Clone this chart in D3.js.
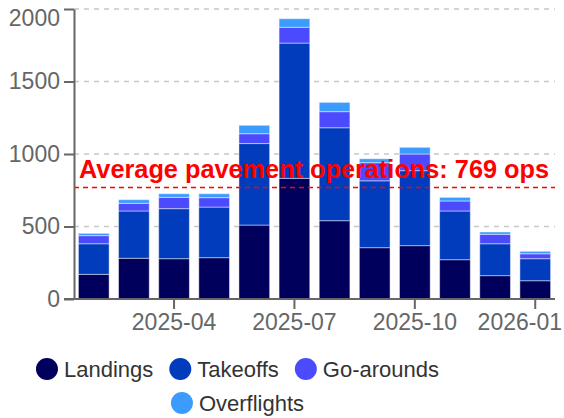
<!DOCTYPE html>
<html>
<head>
<meta charset="utf-8">
<script src="https://cdn.jsdelivr.net/npm/d3@7"></script>
<style>
  html, body { margin: 0; padding: 0; background: #fff; }
  svg { display: block; font-family: "Liberation Sans", Arial, sans-serif; }
</style>
</head>
<body>
<svg id="chart" width="564" height="418"></svg>
<script>
const months = ["2025-02","2025-03","2025-04","2025-05","2025-06","2025-07","2025-08","2025-09","2025-10","2025-11","2025-12","2026-01"];
const landings    = [170, 281, 278, 285, 510, 832, 540, 354, 368, 271, 161, 126];
const takeoffs    = [211, 326, 345, 349, 562, 933, 641, 461, 517, 336, 220, 152];
const goArounds   = [ 56,  53,  78,  65,  68, 109, 111, 125, 115,  69,  65,  34];
const overflights = [ 16,  25,  25,  27,  58,  59,  64,  27,  46,  25,  16,  17];
const seriesNames = ["Landings", "Takeoffs", "Go-arounds", "Overflights"];
const seriesColors = ["#00005c", "#003cbb", "#4b4bfd", "#3b9cfd"];
const yTicks = [0, 500, 1000, 1500, 2000];
const xTickLabels = ["2025-04", "2025-07", "2025-10", "2026-01"];

(function () {
const svg = d3.select("#chart");
const W = 564;
const mLeft = 74, mRight = 555, mTop = 9, mBottom = 299;

const rows = months.map((m, i) => ({
  month: m,
  Landings: landings[i], Takeoffs: takeoffs[i],
  "Go-arounds": goArounds[i], Overflights: overflights[i]
}));
const stacked = d3.stack().keys(seriesNames)(rows);

const avg = d3.mean(rows, d => d.Landings + d.Takeoffs);

const x = d3.scaleBand().domain(months).range([mLeft, mRight]).paddingInner(0.235).paddingOuter(0.11);
const y = d3.scaleLinear().domain([0, 2000]).range([mBottom, mTop]);

// gridlines
svg.append("g").selectAll("line").data(yTicks.filter(t => t > 0)).join("line")
  .attr("x1", mLeft).attr("x2", mRight)
  .attr("y1", d => y(d)).attr("y2", d => y(d))
  .attr("stroke", "#c8c8c8").attr("stroke-width", 1.5).attr("stroke-dasharray", "5,5");

// bars
svg.append("g").selectAll("g").data(stacked).join("g")
  .attr("fill", (d, i) => seriesColors[i])
  .selectAll("rect").data(d => d).join("rect")
  .attr("x", d => x(d.data.month))
  .attr("width", x.bandwidth())
  .attr("y", d => y(d[1]))
  .attr("height", d => y(d[0]) - y(d[1]))
  .attr("stroke", "rgba(255,255,255,0.45)").attr("stroke-width", 1);

// average line
svg.append("line")
  .attr("x1", mLeft).attr("x2", mRight)
  .attr("y1", y(avg)).attr("y2", y(avg))
  .attr("stroke", "#ff0000").attr("stroke-width", 1.5).attr("stroke-dasharray", "5,4");
svg.append("text")
  .attr("x", mLeft + 5).attr("y", y(avg) - 9)
  .attr("fill", "#ff0000").attr("font-weight", "bold").attr("font-size", 25.3)
  .text(`Average pavement operations: ${Math.round(avg)} ops`);

// axes
const yAxis = svg.append("g").attr("transform", `translate(${mLeft},0)`)
  .call(d3.axisLeft(y).tickValues(yTicks).tickFormat(d3.format("d")).tickSize(10).tickPadding(4).tickSizeOuter(0));
const xAxis = svg.append("g").attr("transform", `translate(0,${mBottom})`)
  .call(d3.axisBottom(x).tickValues(xTickLabels).tickSize(10).tickPadding(5).tickSizeOuter(0));
[yAxis, xAxis].forEach(a => {
  a.select(".domain").attr("stroke", "#666").attr("stroke-width", 2);
  a.selectAll(".tick line").attr("stroke", "#666").attr("stroke-width", 2);
  a.selectAll(".tick text").attr("fill", "#666").attr("font-size", 23)
    .attr("font-family", "Liberation Sans, Arial, sans-serif");
});
xAxis.select(".domain").attr("d", `M${mLeft - 10},0H${mRight}`);
// keep the last x label inside the picture
xAxis.selectAll(".tick").each(function (d) {
  const t = d3.select(this).select("text");
  const w = t.node().getComputedTextLength();
  const cx = x(d) + x.bandwidth() / 2;
  if (cx + w / 2 > W - 2) t.attr("text-anchor", "end").attr("x", (W - 2) - cx);
});
// keep the top y label inside the picture
yAxis.selectAll(".tick").each(function (d) {
  const t = d3.select(this).select("text");
  const bb = t.node().getBBox();
  const topAbs = y(d) + bb.y;
  if (topAbs < 4) t.attr("y", 4 - topAbs);
});

// legend
const legendRows = [seriesNames.slice(0, 3), seriesNames.slice(3)];
const legendY = [369, 403];
const legendCenter = 237.5;
legendRows.forEach((names, r) => {
  const g = svg.append("g");
  let cx = 0;
  names.forEach(name => {
    const i = seriesNames.indexOf(name);
    const item = g.append("g").attr("transform", `translate(${cx},0)`);
    item.append("circle").attr("cx", 11).attr("cy", 0).attr("r", 11).attr("fill", seriesColors[i]);
    const t = item.append("text").attr("x", 28).attr("y", 0).attr("dy", "0.35em")
      .attr("font-size", 22).attr("fill", "#333").text(name);
    cx += 28 + t.node().getComputedTextLength() + 16;
  });
  const w = cx - 16;
  g.attr("transform", `translate(${legendCenter - w / 2},${legendY[r]})`);
});
})();
</script>
</body>
</html>
